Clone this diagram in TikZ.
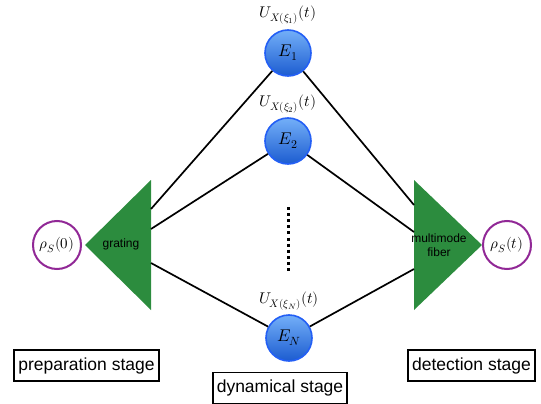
\documentclass[tikz,border=0pt]{standalone}
\usepackage{fontspec}
\usepackage{unicode-math}
\setmathfont{Latin Modern Math}
\newfontfamily\labelfont{Liberation Sans}
\usetikzlibrary{positioning}

\definecolor{gratinggreen}{RGB}{44,140,62}
\definecolor{rhopurple}{RGB}{145,40,150}
\definecolor{envtop}{RGB}{115,175,248}
\definecolor{envbottom}{RGB}{28,92,208}
\definecolor{envedge}{RGB}{35,95,245}

\begin{document}
\begin{tikzpicture}[x=1pt,y=-1pt,
	line/.style={black,line width=1.7pt},
	env/.style={circle,draw=envedge,line width=1.6pt,top color=envtop,bottom color=envbottom,minimum size=46pt,inner sep=0pt,font=\fontsize{17}{17}\selectfont},
	rho/.style={circle,draw=rhopurple,line width=2pt,fill=white,minimum size=48pt,inner sep=0pt,font=\fontsize{15}{15}\selectfont},
	ulabel/.style={inner sep=1pt,font=\fontsize{15.5}{15.5}\selectfont},
	stage/.style={draw,line width=1.8pt,inner sep=4pt,minimum height=31pt,font=\labelfont\fontsize{17.5}{20}\selectfont},
	dots/.style={black,line width=3pt,dash pattern=on 3pt off 3.1pt}]
		\useasboundingbox (0,0) rectangle (541,404);

		%triangles
		\fill[gratinggreen] (85,245) -- (151,180) -- (151,310) -- cycle;
		\fill[gratinggreen] (482,245) -- (414,180) -- (414,310) -- cycle;
		\node[font=\labelfont\fontsize{12}{14}\selectfont] (grating) at (121,244) {grating};
		\node[font=\labelfont\fontsize{12}{14}\selectfont,align=center] (fiber) at (439,245) {multimode\\fiber};
		\coordinate (g1) at (151,209);
		\coordinate (g2) at (151,229);
		\coordinate (gN) at (151,263);
		\coordinate (f1) at (414,205);
		\coordinate (f2) at (414,232);
		\coordinate (fN) at (414,269);

		\node[rho] (rho0) at (57,245) {$\rho_S(0)$};
		\node[rho] (rhot) at (507,245) {$\rho_S(t)$};

		\node[env] (E1) at (288,53) {$E_1$};
		\node[env] (E2) at (288,141) {$E_2$};
		\node[env] (EN) at (289,338) {$E_N$};
		\node[ulabel,above=4pt of E1] (U1) {$U_{X(\xi_1)}(t)$};
		\node[ulabel,above=3pt of E2] (U2) {$U_{X(\xi_2)}(t)$};
		\node[ulabel,above=3pt of EN] (UN) {$U_{X(\xi_N)}(t)$};

		%environment lines
		\draw[line] (g1) -- (E1);
		\draw[line] (g2) -- (E2);
		\draw[line] (gN) -- (EN);
		\draw[line] (f1) -- (E1);
		\draw[line] (f2) -- (E2);
		\draw[line] (fN) -- (EN);

		\draw[dots] (288,207) -- (288,272);

		%stages
		\node[stage] (prep) at (86.5,365.5) {preparation stage};
		\node[stage] (dyn) at (280,388) {dynamical stage};
		\node[stage] (det) at (471.5,365.5) {detection stage};

	\end{tikzpicture}
\end{document}
